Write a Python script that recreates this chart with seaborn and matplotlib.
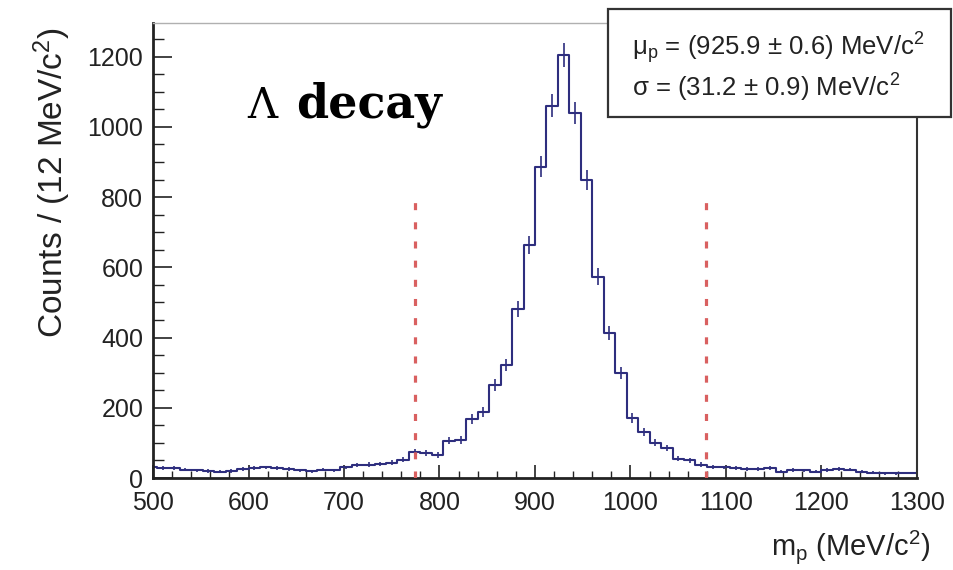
import numpy as np
import pandas as pd
import matplotlib
matplotlib.use("Agg")
import matplotlib.pyplot as plt
from matplotlib.patches import Rectangle
from matplotlib.ticker import MultipleLocator
import seaborn as sns

# ---- data ----
bin_start = 492          # MeV/c^2
bin_width = 12           # MeV/c^2
counts = [30, 29, 28, 24, 22, 20, 18, 20, 25, 28, 30, 28, 25, 22, 19, 24, 22, 30, 36, 38, 40, 44, 52,
          74, 72, 66, 106, 108, 168, 188, 265, 322, 481, 664, 886, 1060, 1205,
          1040, 849, 573, 414, 299, 171, 131, 100, 85, 55, 50, 38, 31,
          30, 28, 26, 26, 28, 18, 23, 22, 18, 23, 26, 24, 18, 15, 13, 13, 14, 15]
cut_positions = [774, 1079]
x_ticks = [500, 600, 700, 800, 900, 1000, 1100, 1200, 1300]
y_ticks = [0, 200, 400, 600, 800, 1000, 1200]
fit_lines = [r"$\mathregular{\mu_{p}}$ = (925.9 $\pm$ 0.6) MeV/c$^{2}$",
             r"$\mathregular{\sigma}$ = (31.2 $\pm$ 0.9) MeV/c$^{2}$"]

edges = [float(bin_start + bin_width * i) for i in range(len(counts) + 1)]
centers = [0.5 * (edges[i] + edges[i + 1]) for i in range(len(counts))]
df = pd.DataFrame({"mass": centers, "counts": counts})

sns.set_theme(style="white")
plt.rcParams["font.family"] = ["Liberation Sans", "DejaVu Sans"]
plt.rcParams["mathtext.fontset"] = "custom"
plt.rcParams["mathtext.rm"] = "Liberation Sans"
plt.rcParams["mathtext.it"] = "Liberation Sans"
plt.rcParams["mathtext.sf"] = "Liberation Sans"

fig = plt.figure(figsize=(9.54, 5.70), dpi=100)
ax = fig.add_axes([153 / 954, 1 - 478 / 570, (917 - 153) / 954, (478 - 23) / 570])

hist_color = "#2e2e7e"
sns.histplot(data=df, x="mass", weights="counts", bins=edges, element="step",
             fill=False, color=hist_color, linewidth=1.5, ax=ax)
ax.errorbar(df["mass"], df["counts"], yerr=np.sqrt(df["counts"]), fmt="none",
            ecolor=hist_color, elinewidth=1.2, capsize=0)

ax.vlines(cut_positions, 0, 800, colors="#d96060", linewidth=2.3,
          linestyles=(0, (2.2, 3.8)), zorder=3)

ax.set_xlim(500, 1300)
ax.set_ylim(0, 1296)
ax.set_xticks(x_ticks)
ax.set_yticks(y_ticks)
ax.xaxis.set_minor_locator(MultipleLocator(20))
ax.yaxis.set_minor_locator(MultipleLocator(50))
ax.tick_params(axis="x", which="major", direction="in", length=9.5, width=1.2,
               labelsize=18, pad=9.5, top=False, bottom=True, colors="#222222")
ax.tick_params(axis="x", which="minor", direction="in", length=5, width=1.0,
               top=False, bottom=True, colors="#222222")
ax.tick_params(axis="y", which="major", direction="in", length=14, width=1.2,
               labelsize=18, pad=7, left=True, right=False, colors="#222222")
ax.tick_params(axis="y", which="minor", direction="in", length=8, width=1.0,
               left=True, right=False, colors="#222222")

for side in ["left", "bottom"]:
    ax.spines[side].set_color("#222222")
    ax.spines[side].set_linewidth(2.0)
ax.spines["right"].set_color("#333333")
ax.spines["right"].set_linewidth(1.5)
ax.spines["top"].set_color("#b0b0b0")
ax.spines["top"].set_linewidth(1.0)

ax.set_xlabel("")
ax.set_ylabel("")
fig.text(52 / 954, 1 - 183 / 570, "Counts / (12 MeV/c$^{2}$)", fontsize=24, rotation=90,
         ha="center", va="center", color="#222222")
fig.text(930 / 954, 1 - 547 / 570, "m$_{\\mathregular{p}}$ (MeV/c$^{2}$)", fontsize=21,
         ha="right", va="center", color="#222222")

# Lambda decay label
fig.text(247 / 954, 1 - 118 / 570, "Λ", fontsize=30, family="DejaVu Serif",
         ha="left", va="baseline", color="black")
fig.text(296 / 954, 1 - 118 / 570, "decay", fontsize=33, family="DejaVu Serif",
         weight="bold", ha="left", va="baseline", color="black")

# fit result box
fig.patches.append(Rectangle((608 / 954, 1 - 117 / 570), (951 - 608) / 954, (117 - 9) / 570,
                             transform=fig.transFigure, facecolor="white",
                             edgecolor="#333333", linewidth=1.6, zorder=5))
fig.text(632 / 954, 1 - 48 / 570, fit_lines[0], fontsize=18.5, ha="left", va="center",
         color="#222222", zorder=6)
fig.text(632 / 954, 1 - 88 / 570, fit_lines[1], fontsize=18.5, ha="left", va="center",
         color="#222222", zorder=6)

fig.savefig("out.png", dpi=100)
